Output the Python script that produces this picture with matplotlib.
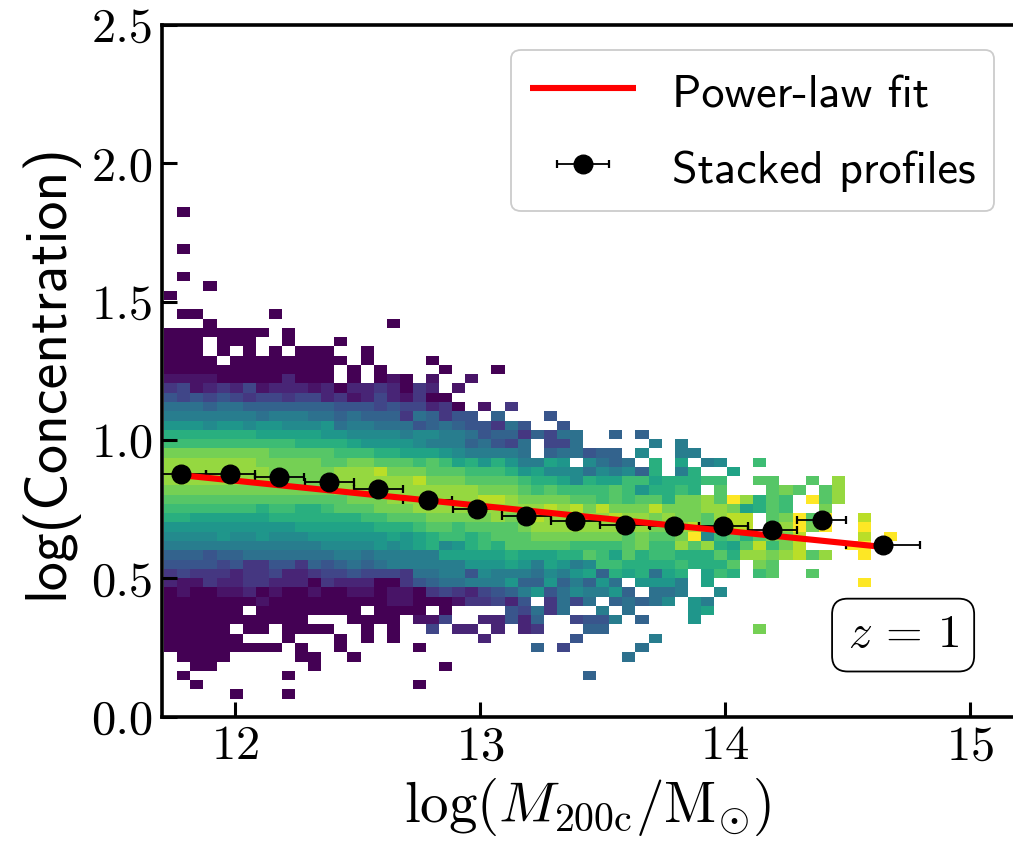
import numpy as np
import matplotlib
matplotlib.use('Agg')
import matplotlib.pyplot as plt
from matplotlib.legend_handler import HandlerErrorbar
from matplotlib.container import ErrorbarContainer

# stacked profile points
mass_pts = [11.78, 11.98, 12.18, 12.385, 12.585, 12.787, 12.988, 13.188, 13.389, 13.591, 13.792, 13.992, 14.193, 14.395, 14.645]
conc_pts = [0.878, 0.876, 0.867, 0.849, 0.822, 0.785, 0.751, 0.725, 0.708, 0.693, 0.691, 0.690, 0.673, 0.710, 0.621]
mass_err = [0.1, 0.1, 0.1, 0.1, 0.1, 0.1, 0.1, 0.1, 0.1, 0.1, 0.1, 0.1, 0.1, 0.1, 0.15]

# power law fit
fit_mass = [11.78, 14.65]
fit_conc = [0.873, 0.613]

x_ticks = [12, 13, 14, 15]
y_ticks = [0.0, 0.5, 1.0, 1.5, 2.0, 2.5]

# histogram bins, top row first
bin_x_start = 11.711
bin_x_step = 0.05343
bin_y_top = 1.841
bin_y_step = 0.0335

# one char per column, 0-9 then a-j is the colour level, dot is an empty bin
heat_rows = [
    ".0",
    "",
    "",
    "",
    ".0",
    "",
    "",
    ".0",
    "...0",
    "0",
    "",
    ".00.....0",
    "...0...... .......0",
    "00000000.0",
    "000.000..0 ...0",
    "000.0.0.0. 000..0",
    "0000.00000 0000.0.... 0",
    "0000000000 000.0.0... .0...0",
    "1111000002 000.0.010. 1..1",
    "3412324122 2120223203 2.1",
    "5454543443 4423124213 00",
    "7776776666 6665554544 230.1.3",
    "8888888788 8776766637 6355.6...5",
    "aaa9aa9aa9 99a7887775 67655375.. 5",
    "cccccccbbb bbaa999989 9887566364 77..6.6",
    "dddddddddd ccccbaaaa9 88867547.4 47.....8.8",
    "ffffffffee eeedddccbb ba988887.6 77566.9..8 8",
    "gggggggfff ffeeffeeed edbcaca88b a.9767.c.b .89..d",
    "ggggggggff fffggghfff eeedddcab9 9979896c.8 c..b",
    "gggggggggf fffggggggh fffeeeedcc b9cbbddbcc cdd..ee..e .g",
    "ffffffffff fffggggggg ggggfffede ddddedaccd c.e...efe. eg",
    "eeeeeeeeee eeeefffggg gggghhgfff feededeecf fgejgced.j eg",
    "dddddddcdd ccdeeefffg gggggggggh ghfhfffhff fggfbced.. f",
    "ccbbbbbbcc cccccddeee fffffgfghg gggghggfgf feghh.efje j..h",
    "aaaaaaaaaa bbbbbbcccd eedeeeefgg gggggggffg hefhh.fgjf j..j",
    "9999a99a99 9aaaaaabab cddcdeeeff fffffefeef j9deceffh. ...h.j",
    "8888888888 889999a9ab c9acdceeee eddddefddg egcbehdfh. ..jj",
    "6665667777 7778878888 8bbbbbcbbb ccedbecddc ccecggfghe g..j",
    "5555453355 3656767888 888aaaba8b a89ddccccd ccce.fe",
    "3433323342 2344544437 7885988879 8ab6cbc7bc .bdc.de..e",
    "2113223322 2032220035 677888a66a 686a7.aaa8 .b........ ...j",
    "0100112010 0100110110 34324568a5 7988a6.778 ..9",
    "0000000100 0000000110 00133425.3 747.67679. a8",
    "000000.000 00000.0000 .0....5473 7..8.7.... ab",
    "0000000000 0...0000.1 14..22526. .4558.6... a",
    "00000.00.0 000..0.0.. 4.22.2.23. ..66...... .....f",
    "000000...0 ...0.0.0.. ....2..... .5.....8",
    "000000000. 0..0.....0 ........6. 4.....7",
    ".0000..... 00..0..... .......... .....7",
    "..00...... .0........ .0",
    ".0.......0 .......... .......... ..6",
    "..0....... .........0",
    ".....0...0",
]

plt.rcParams['font.family'] = ['cmr10']
plt.rcParams['mathtext.fontset'] = 'cm'
plt.rcParams['axes.unicode_minus'] = False
plt.rcParams['axes.formatter.use_mathtext'] = True

# decode the rows into a masked matrix
rows = [r.replace(' ', '') for r in heat_rows]
ncols = max(len(r) for r in rows)
levels = np.full((len(rows), ncols), np.nan)
for i, r in enumerate(rows):
    for j, c in enumerate(r):
        if c != '.':
            levels[i, j] = int(c, 36)

x_edges = bin_x_start + bin_x_step * np.arange(ncols + 1)
y_edges = bin_y_top - bin_y_step * np.arange(len(rows) + 1)

fig = plt.figure(figsize=(10.13, 8.42), dpi=100)
ax = fig.add_axes([162 / 1013, (842 - 716.7) / 842, (1013 - 162) / 1013, (716.7 - 25) / 842])

ax.pcolormesh(x_edges, y_edges, np.ma.masked_invalid(levels), cmap='viridis', vmin=0, vmax=19, zorder=1)

ax.plot(fit_mass, fit_conc, color='red', lw=4.4, label='Power-law fit', zorder=3, solid_capstyle='butt')
eb = ax.errorbar(mass_pts, conc_pts, xerr=mass_err, fmt='o', color='black', ms=13.4, elinewidth=1.3,
                 capsize=3.2, capthick=1.6, label='Stacked profiles', zorder=2)
eb[0].set_zorder(4)

ax.set_xlim(12 - (235 - 162) / 245, 12 + (1013 - 235) / 245)
ax.set_ylim(0, 2.5)
ax.set_xticks(x_ticks)
ax.set_yticks(y_ticks)
ax.set_yticklabels(['%.1f' % t for t in y_ticks])
ax.tick_params(direction='in', length=11, width=2.2, labelsize=35, pad=6)
ax.tick_params(axis='y', pad=6)

ax.spines['right'].set_visible(False)
for s in ['left', 'bottom', 'top']:
    ax.spines[s].set_linewidth(2.6)

ax.set_xlabel(r'$\log(M_{\rm 200c}/{\rm M}_{\odot})$', fontsize=41, labelpad=5)
ax.set_ylabel('log(Concentration)', fontsize=41.7, family='cmss10', labelpad=10)

leg = ax.legend(loc='upper right', bbox_to_anchor=(994 / 1013, 1 - 50 / 842), bbox_transform=fig.transFigure,
                borderaxespad=0, prop={'family': 'cmss10', 'size': 33.2}, handlelength=2.3, handletextpad=0.78,
                labelspacing=0.6, handleheight=1.2, borderpad=0.4, framealpha=1, edgecolor='0.8',
                handler_map={ErrorbarContainer: HandlerErrorbar(xerr_size=0.56)})
leg.get_frame().set_linewidth(1.3)

ax.text(14.727, 0.295, r'$z\,=\,1$', fontsize=34, ha='center', va='center', zorder=5,
        bbox=dict(boxstyle='round,pad=0.33', fc='white', ec='black', lw=1.3))

fig.savefig('out.png', dpi=100)
